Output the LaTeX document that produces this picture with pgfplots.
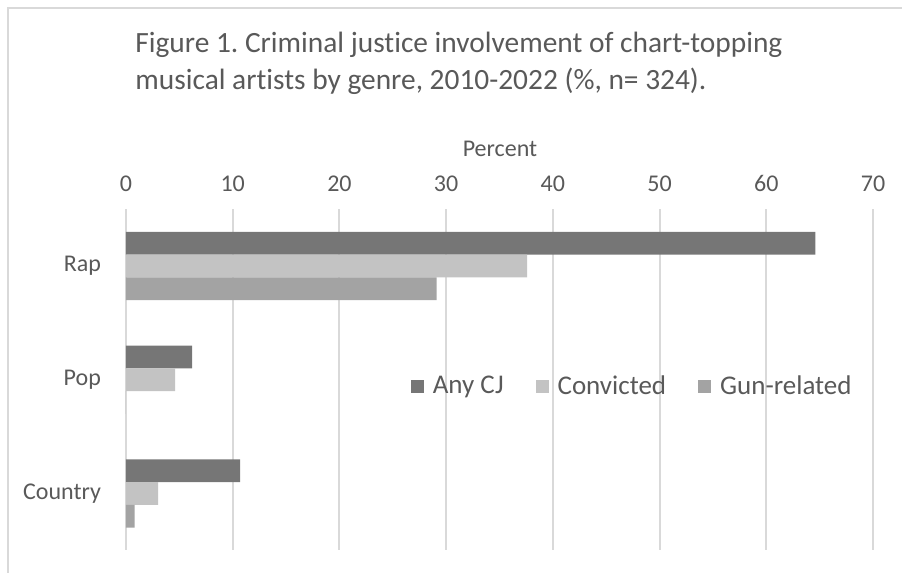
\documentclass[border=0pt]{standalone}
\usepackage{fontspec}
\setmainfont{Carlito}[Ligatures=CommonOff]
\usepackage{pgfplots}
\pgfplotsset{compat=1.18}
\definecolor{anycj}{HTML}{767676}
\definecolor{conv}{HTML}{C3C3C3}
\definecolor{gun}{HTML}{A3A3A3}
\definecolor{txt}{HTML}{595959}
\definecolor{gridc}{HTML}{D9D9D9}
\frenchspacing
\begin{document}
\begin{tikzpicture}
\path[use as bounding box] (0,0) rectangle (451pt,286.5pt);
\draw[gridc, line width=1pt] (4pt,0) -- (4pt,282.5pt) -- (451pt,282.5pt);
\node[anchor=base west, inner sep=0, text=txt, font=\fontsize{14.7}{18}\selectfont] at (67.5pt,260pt) {Figure 1. Criminal justice involvement of chart-topping};
\node[anchor=base west, inner sep=0, text=txt, font=\fontsize{14.7}{18}\selectfont] at (67.5pt,241.5pt) {musical artists by genre, 2010-2022 (\%, n= 324).};
\node[anchor=base, inner sep=0, text=txt, font=\fontsize{12}{14}\selectfont] at (250pt,208pt) {Percent};
\begin{axis}[
  at={(63pt,11.25pt)}, anchor=south west,
  width=373.5pt, height=170.75pt, scale only axis,
  xbar, bar width=0.2,
  xmin=0, xmax=70, ymin=-0.5, ymax=2.5, y dir=reverse,
  ytick={0,1,2}, yticklabels={Rap,Pop,Country},
  xtick={0,10,...,70},
  xticklabel pos=top,
  axis line style={draw=none},
  major tick length=0pt,
  xmajorgrids, grid style={draw=gridc, line width=1pt},
  tick label style={text=txt, font=\fontsize{12}{14}\selectfont},
  xticklabel style={yshift=5pt},
  yticklabel style={xshift=-9pt},
  /pgf/number format/assume math mode=true,
  legend columns=3,
  legend image code/.code={\path[#1] (0pt,-3.25pt) rectangle (6.5pt,3.25pt); \path (9pt,0pt);},
  legend style={draw=none, fill=none, text=txt, font=\fontsize{13.5}{16}\selectfont,
    at={(rel axis cs:0.679,0.48)}, anchor=center,
    /tikz/every even column/.append style={column sep=14pt}},
]
\addplot[fill=anycj, draw=none, bar shift=-0.2] coordinates {(64.6,0) (6.2,1) (10.7,2)};
\addplot[fill=conv, draw=none, bar shift=0] coordinates {(37.6,0) (4.6,1) (3.0,2)};
\addplot[fill=gun, draw=none, bar shift=0.2] coordinates {(29.1,0) (0,1) (0.8,2)};
\legend{Any CJ, Convicted, Gun-related}
\end{axis}
\end{tikzpicture}
\end{document}
